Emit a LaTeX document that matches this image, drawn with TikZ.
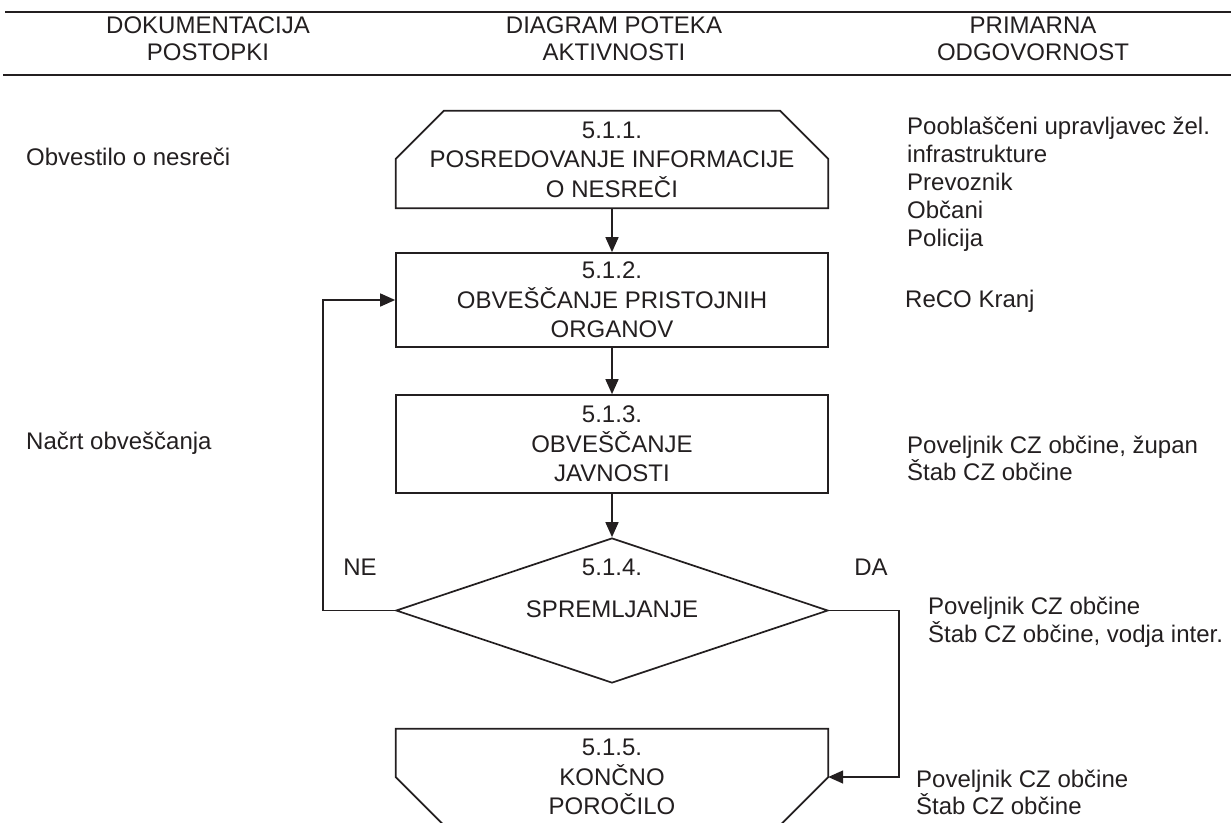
\documentclass[tikz,border=0pt]{standalone}
\usepackage{fontspec}
\setmainfont{Liberation Sans}
\usetikzlibrary{arrows.meta,shapes.geometric,calc}
\definecolor{ink}{RGB}{35,31,32}
\begin{document}
\begin{tikzpicture}[x=1pt,y=-1pt,
  txt/.style={inner sep=0pt,text=ink,font=\fontsize{24}{29.5}\selectfont,align=center},
  rtxt/.style={inner sep=0pt,text=ink,font=\fontsize{24}{28}\selectfont,align=left,anchor=west},
  frame/.style={draw=ink,line width=1.7pt},
  holder/.style={inner sep=0pt,minimum width=432pt},
  arr/.style={draw=ink,line width=1.6pt,-{Triangle[length=15pt,width=13pt]}},
  rule/.style={draw=ink,line width=2.4pt}]
\useasboundingbox (0,0) rectangle (1231,822);
\clip (0,0) rectangle (1231,822);

% header
\coordinate (tl) at (5,12); \coordinate (tr) at (1231,12);
\coordinate (bl) at (3,75); \coordinate (br) at (1231,75);
\draw[rule] (tl) -- (tr);
\draw[rule] (bl) -- (br);
\node[txt,font=\fontsize{24}{27}\selectfont] (h1) at (208,38.5) {DOKUMENTACIJA\\POSTOPKI};
\node[txt,font=\fontsize{24}{27}\selectfont] (h2) at (614,38.5) {DIAGRAM POTEKA\\AKTIVNOSTI};
\node[txt,font=\fontsize{24}{27}\selectfont] (h3) at (1033,38.5) {PRIMARNA\\ODGOVORNOST};

% box 1 (chamfered top)
\node[holder,minimum height=97pt] (b1) at (612,159.5) {};
\draw[frame] (b1.south west) -- ($(b1.north west)+(0,48)$) -- ($(b1.north west)+(48,0)$)
  -- ($(b1.north east)+(-48,0)$) -- ($(b1.north east)+(0,48)$) -- (b1.south east) -- cycle;
\node[txt] (t1) at (b1.center) {5.1.1.\\POSREDOVANJE INFORMACIJE\\O NESREČI};

% box 2
\node[holder,minimum height=94pt,frame] (b2) at (612,300) {};
\node[txt] (t2) at (b2.center) {5.1.2.\\OBVEŠČANJE PRISTOJNIH\\ORGANOV};

% box 3
\node[holder,minimum height=98pt,frame] (b3) at (612,444) {};
\node[txt] (t3) at (b3.center) {5.1.3.\\OBVEŠČANJE\\JAVNOSTI};

% diamond
\node[diamond,frame,inner sep=0pt,minimum width=432pt,minimum height=145pt] (d) at (612,610.5) {};
\node[txt] (t4a) at (612,567) {5.1.4.};
\node[txt] (t4b) at (612,609) {SPREMLJANJE};
\node[txt] (ne) at (360,567) {NE};
\node[txt] (da) at (871,567) {DA};

% box 5 (chamfered bottom)
\node[holder,minimum height=96pt] (b5) at (612,777) {};
\draw[frame] ($(b5.south west)+(48,0)$) -- ($(b5.south west)+(0,-48)$) -- (b5.north west)
  -- (b5.north east) -- ($(b5.south east)+(0,-48)$) -- ($(b5.south east)+(-48,0)$) -- cycle;
\node[txt] (t5) at (b5.center) {5.1.5.\\KONČNO\\POROČILO};

% connectors
\draw[arr] (b1.south) -- (b2.north);
\draw[arr] (b2.south) -- (b3.north);
\draw[arr] (b3.south) -- (d.north);
\coordinate (necorner) at (323,610.5);
\draw[arr] (d.west) -- (necorner) |- (b2.west);
\coordinate (dacorner) at (899,610.5);
\draw[arr] (d.east) -- (dacorner) |- (b5.east);

% left column
\node[rtxt] (l1) at (26,157) {Obvestilo o nesreči};
\node[rtxt] (l2) at (26,443) {Načrt obveščanja};

% right column
\node[rtxt] (r1) at (907,184.5) {Pooblaščeni upravljavec žel.\\infrastrukture\\Prevoznik\\Občani\\Policija};
\node[rtxt] (r2) at (905,301) {ReCO Kranj};
\node[rtxt,font=\fontsize{24}{27}\selectfont] (r3) at (907,458.5) {Poveljnik CZ občine, župan\\Štab CZ občine};
\node[rtxt,font=\fontsize{24}{28}\selectfont] (r4) at (928,622) {Poveljnik CZ občine\\Štab CZ občine, vodja inter.};
\node[rtxt,font=\fontsize{24}{27}\selectfont] (r5) at (916,792.5) {Poveljnik CZ občine\\Štab CZ občine};
\end{tikzpicture}
\end{document}
